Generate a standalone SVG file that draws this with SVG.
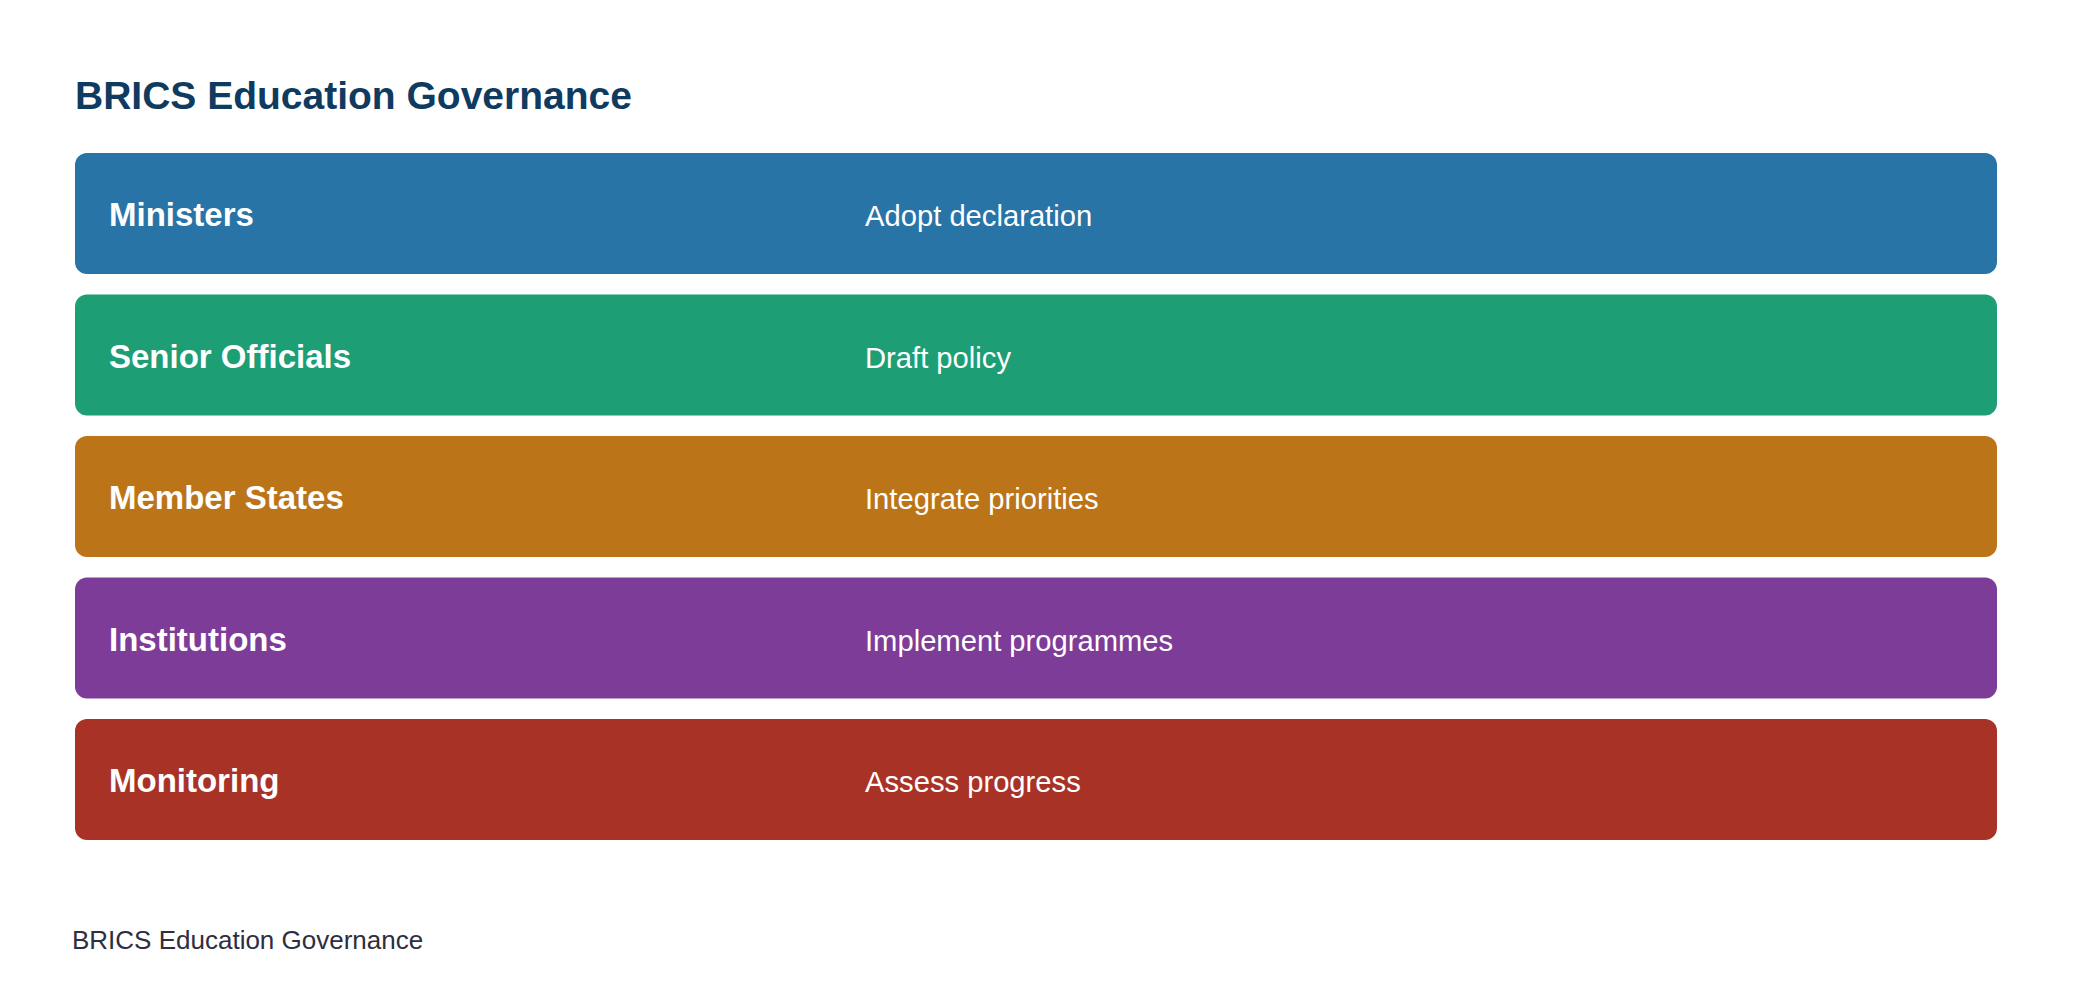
<svg xmlns="http://www.w3.org/2000/svg" width="2080" height="1006" viewBox="0 0 2080 1006">
<style>
.title{font-family:"Liberation Sans",Arial,sans-serif;font-weight:bold;font-size:39px;fill:#0f3b61}
.lbl{font-family:"Liberation Sans",Arial,sans-serif;font-weight:bold;font-size:33px;fill:#ffffff}
.desc{font-family:"Liberation Sans",Arial,sans-serif;font-size:29.2px;fill:#ffffff}
.foot{font-family:"Liberation Sans",Arial,sans-serif;font-size:26px;fill:#2e2e40}
</style>
<rect width="2080" height="1006" fill="#ffffff"/>
<text class="title" x="75" y="109">BRICS Education Governance</text>
<g id="ministers">
<rect x="75" y="153" width="1922" height="121" rx="12" fill="#2874a6"/>
<text class="lbl" x="109" y="226">Ministers</text>
<text class="desc" x="865" y="226">Adopt declaration</text>
</g>
<g id="senior-officials">
<rect x="75" y="294.5" width="1922" height="121" rx="12" fill="#1e9e74"/>
<text class="lbl" x="109" y="367.5">Senior Officials</text>
<text class="desc" x="865" y="367.5">Draft policy</text>
</g>
<g id="member-states">
<rect x="75" y="436" width="1922" height="121" rx="12" fill="#bb7518"/>
<text class="lbl" x="109" y="509">Member States</text>
<text class="desc" x="865" y="509">Integrate priorities</text>
</g>
<g id="institutions">
<rect x="75" y="577.5" width="1922" height="121" rx="12" fill="#7d3c98"/>
<text class="lbl" x="109" y="650.5">Institutions</text>
<text class="desc" x="865" y="650.5">Implement programmes</text>
</g>
<g id="monitoring">
<rect x="75" y="719" width="1922" height="121" rx="12" fill="#a93226"/>
<text class="lbl" x="109" y="792">Monitoring</text>
<text class="desc" x="865" y="792">Assess progress</text>
</g>
<g id="connectors"></g>
<text class="foot" x="72" y="949">BRICS Education Governance</text>
</svg>
